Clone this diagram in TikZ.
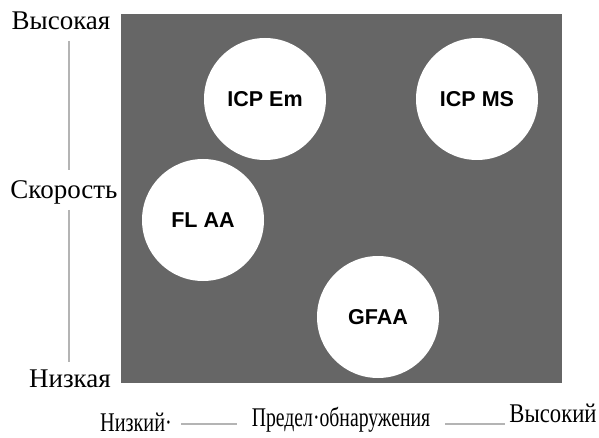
\documentclass[tikz,border=0pt]{standalone}
\usepackage{fontspec}
\setmainfont{Liberation Serif}
\newfontfamily\labelfont{Liberation Sans}
\usepackage{xcolor}
\usetikzlibrary{positioning}

\definecolor{panelgray}{HTML}{666666}
\definecolor{axisgray}{HTML}{B4B4B4}

\tikzset{
  method/.style={circle, fill=white, minimum size=122pt, inner sep=0pt,
    font=\labelfont\bfseries\fontsize{21.5}{25}\selectfont},
  axislabel/.style={inner sep=0pt, font=\fontsize{27}{31}\selectfont},
  axisline/.style={draw=axisgray, line width=1.6pt}
}

\begin{document}
\begin{tikzpicture}[x=1pt, y=-1pt]
  \useasboundingbox (0,0) rectangle (599,438);
  % panel
  \fill[panelgray] (121,14) rectangle (562,383);
  \node[method] (icpem) at (265,99) {ICP Em};
  \node[method] (icpms) at (477,99) {ICP MS};
  \node[method] (flaa) at (203,220) {FL AA};
  \node[method] (gfaa) at (378,317) {GFAA};
  % vertical axis
  \node[axislabel] (high) at (61,21) {Высокая};
  \node[axislabel] (speed) at (64,192) {Скорость};
  \node[axislabel] (low) at (70,379) {Низкая};
  \coordinate (v1) at (69,41);
  \coordinate (v2) at (69,170);
  \coordinate (v3) at (69,210);
  \coordinate (v4) at (69,362);
  \draw[axisline] (v1) -- (v2);
  \draw[axisline] (v3) -- (v4);
  % horizontal axis
  \node[axislabel] (lowlim) at (136,422) {\scalebox{0.75}[1]{Низкий·}};
  \node[axislabel] (limit) at (341,420) {\scalebox{0.73}[1]{Предел·обнаружения}};
  \node[axislabel] (highlim) at (553,413) {\scalebox{0.84}[1]{Высокий}};
  \coordinate (h1) at (181,424);
  \coordinate (h2) at (237,424);
  \coordinate (h3) at (445,424);
  \coordinate (h4) at (505,424);
  \draw[axisline] (h1) -- (h2);
  \draw[axisline] (h3) -- (h4);
\end{tikzpicture}
\end{document}
